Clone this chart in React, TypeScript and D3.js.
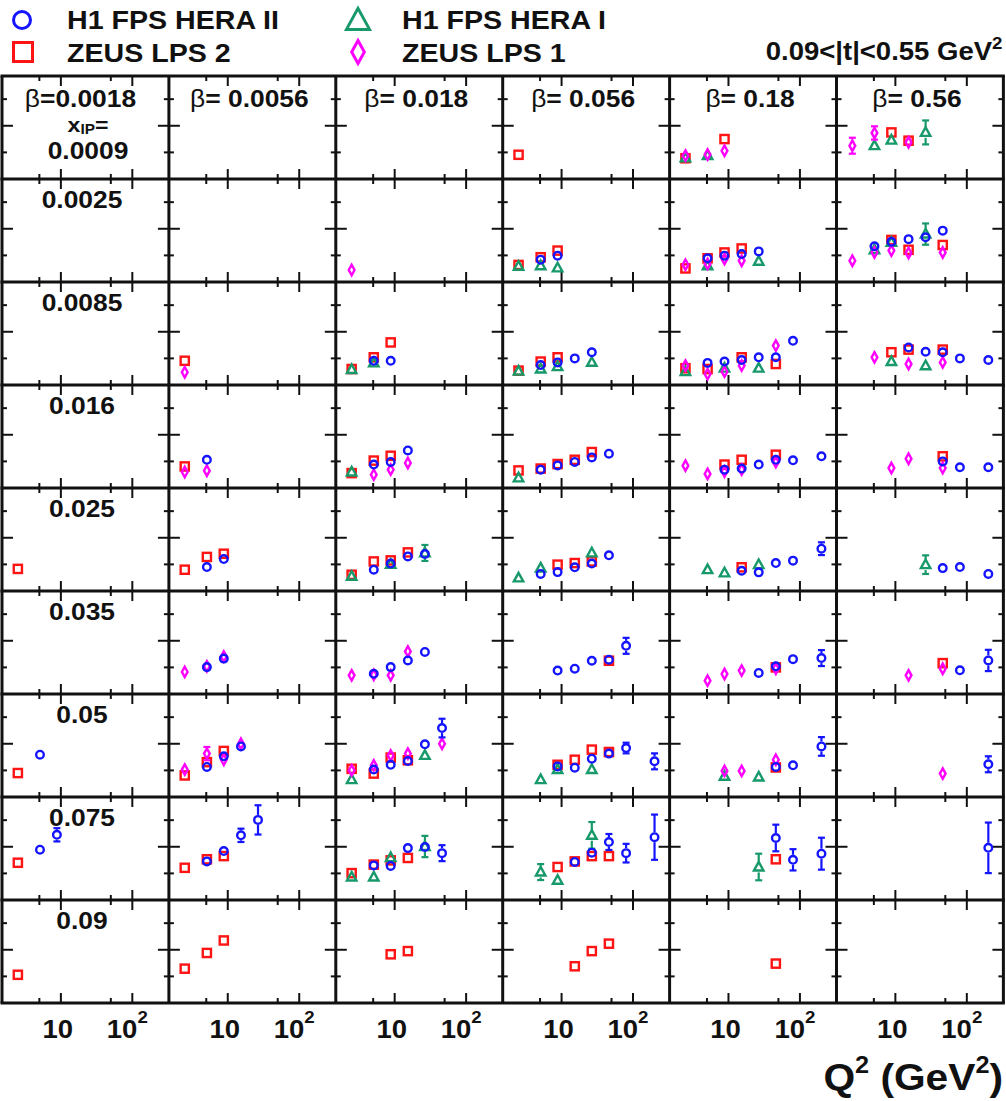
import React from 'react';
import * as d3 from 'd3';

// Bin labels
const betaLabels = ['0.0018', '0.0056', '0.018', '0.056', '0.18', '0.56'];
const xPomLabels = ['0.0009', '0.0025', '0.0085', '0.016', '0.025', '0.035', '0.05', '0.075', '0.09'];

// Axis ticks
const q2MajorTicks = [10, 100];
const q2MinorTicks = [5, 50];
const yMajorTicks = [0.02];
const yMinorTicks = [0.01, 0.03];

// Points: [xPom bin, beta bin, Q2 (GeV^2), x_IP sigma_r, error]
type Pt = [number, number, number, number, number?];

const h1FpsHera2: Pt[] = [
  [1, 3, 5.1, 0.0084], [1, 3, 8.8, 0.0099], [1, 4, 5.1, 0.0089], [1, 4, 8.8, 0.0099], [1, 4, 15.3, 0.0105], [1, 4, 26.5, 0.0115],
  [1, 5, 5.1, 0.0134], [1, 5, 8.8, 0.0151], [1, 5, 15.3, 0.0161], [1, 5, 26.5, 0.0168], [1, 5, 46, 0.0193],
  [2, 2, 5.1, 0.0091], [2, 2, 8.8, 0.0091, 0.001], [2, 3, 5.1, 0.0075], [2, 3, 8.8, 0.0085], [2, 3, 15.3, 0.01], [2, 3, 26.5, 0.0123],
  [2, 4, 5.1, 0.0083], [2, 4, 8.8, 0.0088], [2, 4, 15.3, 0.0094], [2, 4, 26.5, 0.0104], [2, 4, 46, 0.0104], [2, 4, 80, 0.0166, 0.001],
  [2, 5, 15.3, 0.0141], [2, 5, 26.5, 0.0125], [2, 5, 46, 0.0123], [2, 5, 80, 0.01], [2, 5, 200, 0.0094],
  [3, 1, 5.1, 0.0106], [3, 2, 5.1, 0.0088], [3, 2, 8.8, 0.0098], [3, 2, 15.3, 0.0141],
  [3, 3, 5.1, 0.0069], [3, 3, 8.8, 0.0085], [3, 3, 15.3, 0.0098], [3, 3, 26.5, 0.0115], [3, 3, 46, 0.0129],
  [3, 4, 8.8, 0.0069], [3, 4, 15.3, 0.0073], [3, 4, 26.5, 0.0088], [3, 4, 46, 0.0106], [3, 4, 80, 0.0104], [3, 4, 200, 0.0119, 0.0018],
  [3, 5, 46, 0.01], [3, 5, 80, 0.0078], [3, 5, 200, 0.0078],
  [4, 1, 5.1, 0.009], [4, 1, 8.8, 0.012], [4, 2, 5.1, 0.008], [4, 2, 8.8, 0.0103], [4, 2, 15.3, 0.013], [4, 2, 26.5, 0.0139],
  [4, 3, 5.1, 0.0064], [4, 3, 8.8, 0.0071], [4, 3, 15.3, 0.0089], [4, 3, 26.5, 0.0103], [4, 3, 46, 0.0134],
  [4, 4, 15.3, 0.0076], [4, 4, 26.5, 0.007], [4, 4, 46, 0.0105], [4, 4, 80, 0.0114], [4, 4, 200, 0.0159, 0.0024],
  [4, 5, 46, 0.0086], [4, 5, 80, 0.009], [4, 5, 200, 0.0064],
  [5, 1, 5.1, 0.0101], [5, 1, 8.8, 0.0133], [5, 2, 5.1, 0.0076], [5, 2, 8.8, 0.0101], [5, 2, 15.3, 0.0126], [5, 2, 26.5, 0.0158],
  [5, 3, 8.8, 0.0088], [5, 3, 15.3, 0.0095], [5, 3, 26.5, 0.0125], [5, 3, 46, 0.0129], [5, 3, 80, 0.0181, 0.003],
  [5, 4, 26.5, 0.0079], [5, 4, 46, 0.0104], [5, 4, 80, 0.0131], [5, 4, 200, 0.0135, 0.003],
  [5, 5, 80, 0.0089], [5, 5, 200, 0.0126, 0.004],
  [6, 0, 5.1, 0.0159], [6, 1, 5.1, 0.0113], [6, 1, 8.8, 0.0153], [6, 1, 15.3, 0.019],
  [6, 2, 5.1, 0.0103], [6, 2, 8.8, 0.0121], [6, 2, 15.3, 0.0135], [6, 2, 26.5, 0.0198], [6, 2, 46, 0.0259, 0.0035],
  [6, 3, 8.8, 0.0115], [6, 3, 15.3, 0.011], [6, 3, 26.5, 0.0144], [6, 3, 46, 0.0163], [6, 3, 80, 0.0184, 0.002], [6, 3, 200, 0.0134, 0.003],
  [6, 4, 46, 0.0113], [6, 4, 80, 0.0119], [6, 4, 200, 0.019, 0.0035], [6, 5, 200, 0.0123, 0.003],
  [7, 0, 5.1, 0.0189], [7, 0, 8.8, 0.0245, 0.0025],
  [7, 1, 5.1, 0.0145], [7, 1, 8.8, 0.0184], [7, 1, 15.3, 0.0243, 0.0025], [7, 1, 26.5, 0.0301, 0.0055],
  [7, 2, 5.1, 0.013], [7, 2, 8.8, 0.0128], [7, 2, 15.3, 0.0195], [7, 2, 26.5, 0.0199], [7, 2, 46, 0.0176, 0.003],
  [7, 3, 15.3, 0.0143], [7, 3, 26.5, 0.0178], [7, 3, 46, 0.0218, 0.003], [7, 3, 80, 0.0176, 0.0035], [7, 3, 200, 0.0236, 0.0085],
  [7, 4, 46, 0.0233, 0.005], [7, 4, 80, 0.0151, 0.004], [7, 4, 200, 0.0174, 0.006], [7, 5, 200, 0.0196, 0.0095],
];

const zeusLps2: Pt[] = [
  [0, 3, 2.5, 0.0091], [0, 4, 2.5, 0.0078], [0, 4, 8.8, 0.015], [0, 5, 8.8, 0.0175], [0, 5, 15.3, 0.0144],
  [1, 3, 2.5, 0.0064], [1, 3, 5.1, 0.0093], [1, 3, 8.8, 0.0118], [1, 4, 2.5, 0.0051], [1, 4, 5.1, 0.0089], [1, 4, 8.8, 0.0111],
  [1, 4, 15.3, 0.0126], [1, 5, 8.8, 0.0158], [1, 5, 15.3, 0.0121], [1, 5, 46, 0.0139],
  [2, 1, 2.5, 0.0091], [2, 2, 2.5, 0.006], [2, 2, 5.1, 0.0104], [2, 2, 8.8, 0.016], [2, 3, 2.5, 0.0054], [2, 3, 5.1, 0.0088],
  [2, 3, 8.8, 0.0104], [2, 4, 2.5, 0.0063], [2, 4, 5.1, 0.006], [2, 4, 15.3, 0.0104], [2, 4, 46, 0.0079],
  [2, 5, 8.8, 0.0123], [2, 5, 15.3, 0.0133], [2, 5, 46, 0.0133],
  [3, 1, 2.5, 0.0081], [3, 2, 2.5, 0.0056], [3, 2, 5.1, 0.0103], [3, 2, 8.8, 0.0121], [3, 3, 2.5, 0.0066], [3, 3, 5.1, 0.0073],
  [3, 3, 8.8, 0.009], [3, 3, 15.3, 0.0106], [3, 3, 26.5, 0.0135], [3, 4, 8.8, 0.0088], [3, 4, 15.3, 0.0106], [3, 4, 46, 0.0125],
  [3, 5, 46, 0.0119],
  [4, 0, 2.5, 0.0083], [4, 1, 2.5, 0.008], [4, 1, 5.1, 0.0128], [4, 1, 8.8, 0.014], [4, 2, 2.5, 0.0061], [4, 2, 5.1, 0.0111],
  [4, 2, 8.8, 0.0115], [4, 2, 15.3, 0.0145], [4, 3, 8.8, 0.0099], [4, 3, 15.3, 0.0105], [4, 3, 26.5, 0.0111], [4, 4, 15.3, 0.0089],
  [5, 3, 46, 0.0125], [5, 4, 46, 0.01], [5, 5, 46, 0.0116],
  [6, 0, 2.5, 0.009], [6, 1, 2.5, 0.0081], [6, 1, 5.1, 0.0131], [6, 1, 8.8, 0.0173], [6, 2, 2.5, 0.0106], [6, 2, 5.1, 0.0088],
  [6, 2, 8.8, 0.0148], [6, 2, 15.3, 0.0138], [6, 3, 8.8, 0.0121], [6, 3, 15.3, 0.014], [6, 3, 26.5, 0.0178], [6, 3, 46, 0.0169],
  [6, 4, 46, 0.0111],
  [7, 0, 2.5, 0.014], [7, 1, 2.5, 0.0121], [7, 1, 5.1, 0.0153], [7, 1, 8.8, 0.0165], [7, 2, 2.5, 0.0101], [7, 2, 5.1, 0.0133],
  [7, 2, 8.8, 0.0149], [7, 2, 15.3, 0.0158], [7, 3, 8.8, 0.0124], [7, 3, 15.3, 0.0145], [7, 3, 26.5, 0.0165], [7, 3, 46, 0.0165],
  [7, 4, 46, 0.0153],
  [8, 0, 2.5, 0.0106], [8, 1, 2.5, 0.0129], [8, 1, 5.1, 0.0188], [8, 1, 8.8, 0.0235], [8, 2, 8.8, 0.0183], [8, 2, 15.3, 0.0195],
  [8, 3, 15.3, 0.0138], [8, 3, 26.5, 0.0195], [8, 3, 46, 0.0223], [8, 4, 46, 0.0148],
];

const h1FpsHera1: Pt[] = [
  [0, 4, 2.5, 0.0079], [0, 4, 5.1, 0.0088, 0.0012], [0, 5, 5.1, 0.0125], [0, 5, 8.8, 0.0146], [0, 5, 26.5, 0.0175, 0.0045],
  [1, 3, 2.5, 0.0059], [1, 3, 5.1, 0.0061], [1, 3, 8.8, 0.0053], [1, 4, 5.1, 0.0061], [1, 4, 26.5, 0.0078],
  [1, 5, 5.1, 0.0121], [1, 5, 8.8, 0.0149], [1, 5, 26.5, 0.018, 0.004],
  [2, 2, 2.5, 0.0058], [2, 2, 5.1, 0.0083], [2, 3, 2.5, 0.0052], [2, 3, 5.1, 0.006], [2, 3, 8.8, 0.0069], [2, 3, 26.5, 0.0085],
  [2, 4, 2.5, 0.005], [2, 4, 8.8, 0.0063], [2, 4, 26.5, 0.0063], [2, 5, 8.8, 0.0088, 0.0018], [2, 5, 26.5, 0.0072],
  [3, 2, 2.5, 0.006, 0.001], [3, 3, 2.5, 0.0038],
  [4, 2, 2.5, 0.0055], [4, 2, 8.8, 0.01], [4, 2, 26.5, 0.0143, 0.003], [4, 3, 2.5, 0.0049], [4, 3, 5.1, 0.0086],
  [4, 3, 26.5, 0.0143, 0.002], [4, 4, 5.1, 0.008], [4, 4, 8.8, 0.0068], [4, 4, 26.5, 0.0099], [4, 5, 26.5, 0.0099, 0.0035],
  [6, 2, 2.5, 0.0065], [6, 2, 26.5, 0.0156], [6, 3, 5.1, 0.0065], [6, 3, 8.8, 0.0103], [6, 3, 26.5, 0.0103],
  [6, 4, 8.8, 0.0078], [6, 4, 26.5, 0.0075],
  [7, 2, 2.5, 0.0086], [7, 2, 5.1, 0.0086], [7, 2, 8.8, 0.0159], [7, 2, 26.5, 0.0201, 0.004],
  [7, 3, 5.1, 0.0105, 0.003], [7, 3, 8.8, 0.0074, 0.0015], [7, 3, 26.5, 0.0243, 0.005], [7, 4, 26.5, 0.0124, 0.005],
];

const zeusLps1: Pt[] = [
  [0, 4, 2.5, 0.0088], [0, 4, 5.1, 0.0092], [0, 4, 8.8, 0.0106, 0.0015], [0, 5, 2.5, 0.0125, 0.003], [0, 5, 5.1, 0.0173, 0.0025],
  [0, 5, 15.3, 0.0138],
  [1, 2, 2.5, 0.0045], [1, 4, 2.5, 0.0065], [1, 4, 5.1, 0.0068], [1, 4, 8.8, 0.0086], [1, 4, 15.3, 0.008],
  [1, 5, 2.5, 0.008, 0.002], [1, 5, 5.1, 0.0111], [1, 5, 8.8, 0.0118], [1, 5, 15.3, 0.0109], [1, 5, 46, 0.0111, 0.0015],
  [2, 1, 2.5, 0.0048, 0.0015], [2, 4, 2.5, 0.0073], [2, 4, 5.1, 0.0041], [2, 4, 8.8, 0.005], [2, 4, 15.3, 0.0073],
  [2, 4, 46, 0.0148, 0.002], [2, 5, 5.1, 0.0104, 0.0015], [2, 5, 15.3, 0.0079], [2, 5, 46, 0.0085],
  [3, 1, 2.5, 0.006], [3, 1, 5.1, 0.0065], [3, 2, 5.1, 0.005], [3, 2, 8.8, 0.0069], [3, 2, 15.3, 0.0094, 0.0015],
  [3, 4, 2.5, 0.0084], [3, 4, 5.1, 0.0053, 0.0015], [3, 4, 8.8, 0.0062], [3, 4, 15.3, 0.0069], [3, 4, 46, 0.0097],
  [3, 5, 8.8, 0.0075], [3, 5, 15.3, 0.011, 0.002], [3, 5, 46, 0.0075],
  [5, 1, 2.5, 0.0083], [5, 1, 5.1, 0.0104], [5, 1, 8.8, 0.0141], [5, 2, 2.5, 0.007], [5, 2, 5.1, 0.0072], [5, 2, 8.8, 0.007],
  [5, 2, 15.3, 0.016, 0.0015], [5, 4, 5.1, 0.005], [5, 4, 8.8, 0.0075], [5, 4, 15.3, 0.0088], [5, 4, 46, 0.0095],
  [5, 5, 15.3, 0.007], [5, 5, 46, 0.0095],
  [6, 1, 2.5, 0.0103], [6, 1, 5.1, 0.0163, 0.0025], [6, 1, 8.8, 0.014, 0.0015], [6, 1, 15.3, 0.02, 0.0015],
  [6, 2, 2.5, 0.01], [6, 2, 5.1, 0.0119], [6, 2, 8.8, 0.0156], [6, 2, 15.3, 0.0163], [6, 2, 46, 0.02, 0.002],
  [6, 4, 8.8, 0.0098], [6, 4, 15.3, 0.0098], [6, 4, 46, 0.014], [6, 5, 46, 0.0088],
];

type Kind = 'circle' | 'square' | 'triangle' | 'diamond';
interface Series { name: string; data: Pt[]; kind: Kind; color: string; }

// Drawing order: last one ends up on top
const seriesList: Series[] = [
  { name: 'ZEUS LPS 2', data: zeusLps2, kind: 'square', color: '#ff1414' },
  { name: 'H1 FPS HERA I', data: h1FpsHera1, kind: 'triangle', color: '#17996a' },
  { name: 'ZEUS LPS 1', data: zeusLps1, kind: 'diamond', color: '#ff00ff' },
  { name: 'H1 FPS HERA II', data: h1FpsHera2, kind: 'circle', color: '#1414ff' },
];

const W = 1006;
const H = 1101;
const GX = 2;
const GY = 76;
const PW = 166.9;
const PH = 103;
const FONT = "'Liberation Sans', Arial, Helvetica, sans-serif";
const SX = 1.1;

const xs = d3.scaleLog().domain([1.5, 325]).range([0, PW]);
const ys = d3.scaleLinear().domain([0, 0.0387]).range([PH, 0]);

function Marker({ kind, cx, cy, s, color, sw }: { kind: Kind; cx: number; cy: number; s: number; color: string; sw: number }) {
  if (kind === 'circle') return <circle cx={cx} cy={cy} r={s} fill="none" stroke={color} strokeWidth={sw} />;
  if (kind === 'square')
    return <rect x={cx - s} y={cy - s} width={2 * s} height={2 * s} fill="none" stroke={color} strokeWidth={sw} />;
  if (kind === 'triangle') {
    const p = d3.path();
    p.moveTo(cx, cy - 1.2 * s);
    p.lineTo(cx + 1.1 * s, cy + 0.8 * s);
    p.lineTo(cx - 1.1 * s, cy + 0.8 * s);
    p.closePath();
    return <path d={p.toString()} fill="none" stroke={color} strokeWidth={sw} strokeLinejoin="miter" />;
  }
  const p = d3.path();
  p.moveTo(cx, cy - 1.3 * s);
  p.lineTo(cx + 0.72 * s, cy);
  p.lineTo(cx, cy + 1.3 * s);
  p.lineTo(cx - 0.72 * s, cy);
  p.closePath();
  return <path d={p.toString()} fill="none" stroke={color} strokeWidth={sw} />;
}

const markerSize: Record<Kind, number> = { circle: 3.8, square: 4.1, triangle: 4.3, diamond: 4 };
const markerHalfH: Record<Kind, number> = { circle: 5, square: 5.2, triangle: 5.4, diamond: 6.2 };

function Txt({ x, y, size, anchor = 'start', weight = 700, children }: any) {
  return (
    <text
      transform={`translate(${x},${y}) scale(${SX},1)`}
      fontSize={size}
      fontWeight={weight}
      textAnchor={anchor}
      fontFamily={FONT}
      fill="#111"
    >
      {children}
    </text>
  );
}

function PointMark({ s, p }: { s: Series; p: Pt }) {
  const [row, col, q2, v, err] = p;
  const cx = GX + col * PW + xs(q2);
  const cy = GY + row * PH + ys(v);
  const half = markerHalfH[s.kind];
  const bars: React.ReactNode[] = [];
  if (err) {
    const top = GY + row * PH + ys(v + err);
    const bot = GY + row * PH + ys(v - err);
    if (top < cy - half) {
      bars.push(<line key="t" x1={cx} x2={cx} y1={top} y2={cy - half} />);
      bars.push(<line key="tc" x1={cx - 3.5} x2={cx + 3.5} y1={top} y2={top} />);
    }
    if (bot > cy + half) {
      bars.push(<line key="b" x1={cx} x2={cx} y1={cy + half} y2={bot} />);
      bars.push(<line key="bc" x1={cx - 3.5} x2={cx + 3.5} y1={bot} y2={bot} />);
    }
  }
  return (
    <g>
      <g stroke={s.color} strokeWidth={2.2}>{bars}</g>
      <Marker kind={s.kind} cx={cx} cy={cy} s={markerSize[s.kind]} color={s.color} sw={2.4} />
    </g>
  );
}

function PanelTicks({ row, col }: { row: number; col: number }) {
  const x0 = GX + col * PW;
  const y0 = GY + row * PH;
  const items: React.ReactNode[] = [];
  const xt = [...q2MajorTicks.map((t) => [t, 10]), ...q2MinorTicks.map((t) => [t, 5])];
  xt.forEach(([t, len], i) => {
    const x = x0 + xs(t);
    items.push(<line key={`xb${i}`} x1={x} x2={x} y1={y0 + PH} y2={y0 + PH - len} />);
    items.push(<line key={`xt${i}`} x1={x} x2={x} y1={y0} y2={y0 + len} />);
  });
  const yt = [...yMajorTicks.map((t) => [t, 11]), ...yMinorTicks.map((t) => [t, 5])];
  yt.forEach(([t, len], i) => {
    const y = y0 + ys(t);
    items.push(<line key={`yl${i}`} x1={x0} x2={x0 + len} y1={y} y2={y} />);
    items.push(<line key={`yr${i}`} x1={x0 + PW} x2={x0 + PW - len} y1={y} y2={y} />);
  });
  return <g stroke="#111" strokeWidth={2}>{items}</g>;
}

export default function App() {
  const rows = d3.range(xPomLabels.length);
  const cols = d3.range(betaLabels.length);
  const legendItems = [
    { s: seriesList[3], mx: 22, my: 20, tx: 67, ty: 29 },
    { s: seriesList[0], mx: 23, my: 52, tx: 67, ty: 62 },
    { s: seriesList[1], mx: 358, my: 21, tx: 402, ty: 29 },
    { s: seriesList[2], mx: 358, my: 52, tx: 402, ty: 62 },
  ];
  const legendSize: Record<Kind, number> = { circle: 8.5, square: 9.5, triangle: 10.5, diamond: 8.8 };

  return (
    <svg width={W} height={H} style={{ position: 'absolute', left: 0, top: 0, background: '#fff' }}>
      <rect width={W} height={H} fill="#fff" />

      {/* legend */}
      {legendItems.map((l, i) => (
        <g key={i}>
          <Marker kind={l.s.kind} cx={l.mx} cy={l.my} s={legendSize[l.s.kind]} color={l.s.color} sw={3} />
          <Txt x={l.tx} y={l.ty} size={26}>{l.s.name}</Txt>
        </g>
      ))}
      <Txt x={1003 - 10 * SX} y={60} size={25} anchor="end">
        {'0.09<|t|<0.55 GeV'}
      </Txt>
      <Txt x={1003 - 10 * SX} y={49} size={17} anchor="start">2</Txt>

      {/* ticks */}
      {rows.map((r) => cols.map((c) => <PanelTicks key={`t${r}-${c}`} row={r} col={c} />))}

      {/* data */}
      {seriesList.map((s) => (
        <g key={s.name}>
          {s.data.map((p, i) => (
            <PointMark key={i} s={s} p={p} />
          ))}
        </g>
      ))}

      {/* frame */}
      <g stroke="#111" strokeWidth={3}>
        {d3.range(betaLabels.length + 1).map((c) => (
          <line key={`v${c}`} x1={GX + c * PW} x2={GX + c * PW} y1={GY} y2={GY + PH * xPomLabels.length} />
        ))}
        {d3.range(xPomLabels.length + 1).map((r) => (
          <line key={`h${r}`} x1={GX - 1.5} x2={GX + PW * betaLabels.length + 1.5} y1={GY + r * PH} y2={GY + r * PH} />
        ))}
      </g>

      {/* beta labels */}
      {cols.map((c) => (
        <Txt key={`b${c}`} x={GX + c * PW + PW / 2 - (c === 0 ? 5 : 3)} y={GY + 31} size={24} anchor="middle">
          <tspan fontWeight={400}>β</tspan>
          {c === 0 ? '=' : '= '}
          {betaLabels[c]}
        </Txt>
      ))}

      {/* x_IP labels */}
      <Txt x={88} y={GY + 56} size={21} anchor="middle">
        x<tspan fontSize={14} dy={2}>IP</tspan>
        <tspan dy={-2}>=</tspan>
      </Txt>
      <Txt x={88} y={GY + 83} size={24} anchor="middle">{xPomLabels[0]}</Txt>
      {rows.slice(1).map((r) => (
        <Txt key={`x${r}`} x={82} y={GY + r * PH + 29} size={24} anchor="middle">{xPomLabels[r]}</Txt>
      ))}

      {/* Q2 tick labels */}
      {cols.map((c) => (
        <g key={`q${c}`}>
          <Txt x={GX + c * PW + xs(q2MajorTicks[0]) - 3} y={1038} size={25} anchor="middle">10</Txt>
          <Txt x={GX + c * PW + xs(q2MajorTicks[1]) - 5} y={1038} size={25} anchor="middle">
            10<tspan fontSize={17} dy={-15}>2</tspan>
          </Txt>
        </g>
      ))}

      {/* axis title */}
      <Txt x={1003} y={1090} size={37} anchor="end">
        Q<tspan fontSize={23} dy={-17}>2</tspan>
        <tspan dy={17}> (GeV</tspan>
        <tspan fontSize={23} dy={-17}>2</tspan>
        <tspan dy={17}>)</tspan>
      </Txt>
    </svg>
  );
}
